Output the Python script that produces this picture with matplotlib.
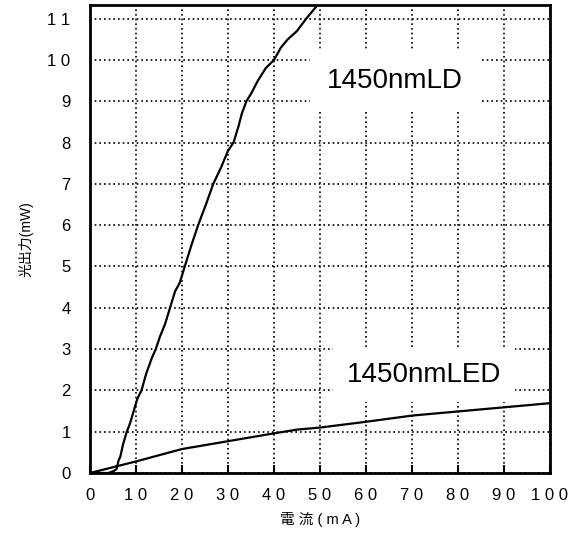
import matplotlib.pyplot as plt

plt.rcParams['font.family'] = ['Liberation Sans', 'Noto Sans CJK JP', 'DejaVu Sans']

# LD curve
ld_current = [0, 2, 4, 5.2, 5.8, 6.2, 6.6, 7.2, 8, 8.7, 9.5, 10.3, 11.2, 12.2, 13.5, 14.3, 15.2, 16.3, 17.4, 18.5, 19.5, 20.6, 22, 23.5, 25.2, 26.8, 28.5, 30, 31.2, 32.3, 33, 34, 35.1, 36.5, 38.2, 40, 41.5, 43, 45, 47, 48.5, 50]
ld_power = [0, 0, 0, 0.05, 0.1, 0.3, 0.4, 0.7, 1.0, 1.2, 1.5, 1.8, 2.0, 2.4, 2.8, 3.0, 3.3, 3.6, 4.0, 4.4, 4.6, 5.0, 5.5, 6.0, 6.5, 7.0, 7.4, 7.8, 8.0, 8.4, 8.7, 9.0, 9.2, 9.5, 9.8, 10.0, 10.3, 10.5, 10.7, 11.0, 11.2, 11.4]

# LED curve
led_current = [0, 10, 20, 30, 40, 45, 50, 60, 70, 80, 90, 100]
led_power = [0, 0.28, 0.58, 0.77, 0.96, 1.05, 1.1, 1.24, 1.39, 1.49, 1.59, 1.69]

x_ticks = list(range(0, 101, 10))
x_labels = ['0', '1 0', '2 0', '3 0', '4 0', '5 0', '6 0', '7 0', '8 0', '9 0', '1 0 0']
y_ticks = list(range(0, 12))
y_labels = ['0', '1', '2', '3', '4', '5', '6', '7', '8', '9', '1 0', '1 1']

fig = plt.figure(figsize=(5.74, 5.34), dpi=100)
ax = fig.add_axes([90 / 574, 61 / 534, 460 / 574, 468 / 534])

ax.plot(ld_current, ld_power, color='black', lw=1.6, zorder=3)
ax.plot(led_current, led_power, color='black', lw=1.6, zorder=3)

ax.set_xlim(0, 100)
ax.set_ylim(0, 11.33)
ax.set_xticks(x_ticks)
ax.set_xticklabels(x_labels)
ax.set_yticks(y_ticks)
ax.set_yticklabels(y_labels)
ax.tick_params(axis='x', direction='in', length=6, width=1.5, labelsize=12, pad=11)
ax.tick_params(axis='y', length=0, labelsize=12, pad=14)
ax.grid(True, color='black', linestyle=(0, (1, 1.8)), linewidth=1.2, zorder=1)
ax.set_axisbelow(True)
for s in ax.spines.values():
    s.set_linewidth(2)

ax.text(66.3, 9.5, '1450nmLD', fontsize=20, ha='center', va='center', zorder=2,
        bbox=dict(facecolor='white', edgecolor='none', pad=12))
ax.text(72.6, 2.37, '1450nmLED', fontsize=20, ha='center', va='center', zorder=2,
        bbox=dict(facecolor='white', edgecolor='none', pad=10))

ax.set_xlabel('電 流 ( m A )', fontsize=10.5, labelpad=6)
ax.set_ylabel('光出力(mW)', fontsize=10, labelpad=10)

plt.savefig('out.png', dpi=100)
